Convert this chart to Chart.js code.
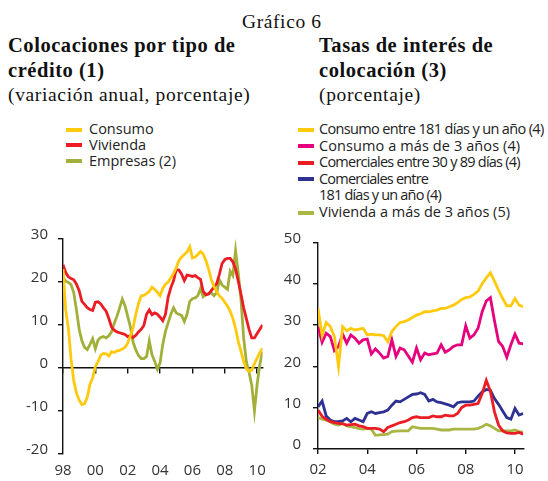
<!DOCTYPE html>
<html lang="es">
<head>
<meta charset="utf-8">
<title>Gráfico 6</title>
<script src="https://cdn.jsdelivr.net/npm/chart.js@4.4.0/dist/chart.umd.min.js"></script>
<style>
  body { margin: 0; background: #fff; }
  #page { position: relative; width: 548px; height: 481px; overflow: hidden; color: #222; }
  .serif { position: absolute; font-family: "Liberation Serif", serif; white-space: nowrap; color: #111; }
  .num { font-size: 19.5px; line-height: 19px; letter-spacing: 0.6px; }
  .tit { font-size: 20.5px; line-height: 25px; font-weight: bold; letter-spacing: 0.55px; }
  .sub { font-size: 19.5px; line-height: 19px; letter-spacing: 0.65px; }
  .leg { position: absolute; font-family: "Open Sans", sans-serif; font-size: 14.5px; line-height: 16px; white-space: nowrap; color: #222; }
  .mk { position: absolute; height: 4px; }
  .box { position: absolute; top: 220px; width: 274px; height: 261px; }
</style>
</head>
<body>
<div id="page">
  <div class="serif num" style="left:242px; top:12px;">Gráfico 6</div>

  <div class="serif tit" style="left:8px; top:33px;">Colocaciones por tipo de<br>crédito (1)</div>
  <div class="serif sub" style="left:8px; top:85px;">(variación anual, porcentaje)</div>

  <div class="serif tit" style="left:319px; top:33px;">Tasas de interés de<br>colocación (3)</div>
  <div class="serif sub" style="left:319px; top:85px;">(porcentaje)</div>

  <div id="legIzq"></div>
  <div id="legDer"></div>

  <div class="box" style="left:0;"><canvas id="izq" width="274" height="261"></canvas></div>
  <div class="box" style="left:274px;"><canvas id="der" width="274" height="261"></canvas></div>
</div>

<script>
// datos bimestrales (ene, mar, may, jul, sep, nov)
const fechasIzq = Array.from({ length: 75 }, (_, i) => 1998 + i / 6);
const fechasDer = Array.from({ length: 51 }, (_, i) => 2002 + i / 6);

// Colocaciones, variación anual (%)
const consumo = [
  23, 13.5, 9.2, 2, -3, -5.8,
  -7.5, -8.5, -8.3, -6.8, -3.8, -2.3,
  0.3, 1.5, 3, 3.4, 3.3, 2.8,
  3.8, 3.6, 4, 4.1, 4.4, 4.8,
  5.8, 7.5, 9.4, 12.5, 15, 16.8,
  16.9, 17.3, 17.8, 18.8, 18.3, 17.6,
  16.8, 18.5, 19.5, 20, 21, 22,
  23.3, 25, 25.8, 26.4, 27, 28.2,
  25.6, 25.8, 26.4, 27.1, 26.5, 25,
  23, 20.5, 19, 17.8, 16.8, 16.2,
  15.3, 14.4, 13.2, 11.5, 9.2, 6.2,
  3.9, 1.5, -0.2, -0.8, -0.5, 1.0,
  2.3, 3.6, 4.6
];
const vivienda = [
  24, 22.2, 21.2, 20.8, 20.5, 19.5,
  18, 15.5, 14.8, 14, 13.6, 13.4,
  15.3, 15.4, 14.9, 14, 13.2, 11.5,
  9.5, 8.8, 8.4, 8.2, 8.0, 7.8,
  7.3, 7.5, 7.1, 7.6, 8.4, 9.0,
  9.9, 12.5, 13.5, 12.4, 12.8, 12.5,
  11.8, 11.0, 12.5, 16.5, 18.7, 20.3,
  22.9, 22.8, 21.8, 20.3, 21.6, 21.5,
  21.3, 21.5, 21, 20.6, 17.8, 17,
  17.2, 18, 18.8, 19.6, 21.8, 24.3,
  25.2, 25.5, 25.5, 24.7, 23, 20.2,
  17.2, 14.0, 11.5, 9.0, 7.0, 7.0,
  8.0, 9.0, 10.0
];
const empresas = [
  21, 20.2, 19.9, 19.4, 17.5, 13.5,
  9, 6.3, 4.8, 4.3, 5.5, 6.8,
  4.5, 6.5, 7.1, 7.3, 7.0, 7.5,
  8.4, 10.4, 12.0, 14.0, 16.0, 14.5,
  12.0, 9.5, 6.0, 4.2, 2.9, 2.2,
  2.2, 2.7, 6.3, 3.1, 1.6, -0.3,
  1.2, 5.5, 8.5, 10.5, 12.5, 14.0,
  12.8, 12.5, 12.2, 10.8, 12.5, 15.5,
  16.1, 16.3, 16.8, 18.5, 16.6, 17.2,
  17.3, 17.5, 16.8, 17.5, 20.5, 19.3,
  18.8, 18.3, 22.5, 21.5, 27.3, 22,
  16, 7, 1.5, -1.0, -4, -10,
  -3.8, 0.8, 3.8
];

// Tasas de interés de colocación (%)
const consumoCorto = [
  34.0, 27.5, 30.6, 29.6, 27.2, 20.0,
  29.6, 28.6, 29.2, 28.8, 29.0, 29.2,
  27.6, 27.8, 27.6, 27.6, 27.4, 26.0,
  28.4, 29.6, 30.6, 30.8, 31.2, 31.8,
  32.4, 32.7, 33.2, 33.2, 33.4, 33.6,
  34.0, 34.0, 34.4, 34.8, 35.4, 36.2,
  36.6, 36.8, 37.4, 38.2, 40.0, 41.4,
  42.6, 40.6, 38.4, 36.4, 34.6, 34.6,
  36.4, 34.8, 34.4
];
const consumoLargo = [
  29.6, 25.8, 28.0, 27.2, 23.8, 24.8,
  27.8, 25.6, 27.6, 26.8, 25.6, 26.4,
  26.6, 23.0, 24.2, 23.2, 22.0, 22.4,
  26.4, 22.4, 24.4, 24.0, 22.5, 21.0,
  24.4, 21.6, 23.2, 22.8, 23.0, 23.2,
  25.2, 23.4, 24.0, 24.8, 25.2, 25.2,
  29.8, 26.8, 27.6, 29.2, 33.2, 35.8,
  36.6, 31.0, 26.0, 24.8, 22.2, 25.2,
  27.8, 25.6, 25.4
];
const comercialesCorto = [
  9.4, 7.9, 7.2, 6.6, 6.4, 6.2,
  6.1, 5.8, 5.9, 6.0, 5.6, 5.4,
  5.0, 5.0, 5.0, 4.8, 4.2, 5.2,
  5.6, 6.0, 6.4, 6.6, 7.0, 7.6,
  7.8, 7.6, 7.6, 7.6, 8.0, 7.8,
  7.8, 8.2, 8.0, 8.0, 8.6, 10.0,
  10.6, 10.6, 10.8, 11.0, 13.4, 16.6,
  14.0, 9.0, 5.8, 4.4, 3.9, 3.8,
  3.8, 4.0, 3.6
];
const comercialesLargo = [
  10.2, 11.6, 8.0, 7.0, 6.6, 6.6,
  6.8, 7.4, 6.6, 7.4, 7.0, 6.6,
  8.6, 9.0, 8.6, 8.8, 9.0, 9.4,
  10.6, 11.6, 11.4, 12.0, 12.6, 13.2,
  13.3, 13.6, 13.2, 11.6, 12.0, 11.4,
  11.2, 10.9, 10.6, 10.2, 11.2, 11.4,
  11.4, 11.4, 11.6, 12.8, 13.8, 14.4,
  14.2, 12.2, 10.8, 9.2, 7.6, 7.2,
  9.8, 8.2, 8.6
];
const viviendaLarga = [
  7.6, 7.2, 7.0, 6.6, 6.0, 5.8,
  6.2, 5.6, 5.4, 5.2, 4.9, 4.8,
  5.0, 4.8, 3.3, 3.4, 3.5, 3.6,
  4.2, 4.3, 4.4, 4.4, 4.4, 5.4,
  5.2, 5.0, 5.0, 5.0, 5.0, 4.8,
  4.6, 4.6, 4.6, 4.8, 4.8, 4.8,
  4.8, 4.8, 4.8, 5.0, 5.4, 6.0,
  5.6, 5.0, 4.4, 4.4, 4.4, 4.4,
  4.6, 4.2, 4.0
];

const ticksIzq = [30, 20, 10, 0, -10, -20];
const ticksDer = [50, 40, 30, 20, 10, 0];

const amarillo = "#FFC90E";
const rojo = "#EC1C24";
const oliva = "#A2B03A";
const magenta = "#E6007E";
const azul = "#2E3192";

const seriesIzq = [
  { label: "Consumo", data: consumo, color: amarillo },
  { label: "Vivienda", data: vivienda, color: rojo },
  { label: "Empresas (2)", data: empresas, color: oliva },
];
const seriesDer = [
  { label: "Consumo entre 181 días y un año (4)", data: consumoCorto, color: amarillo, ls: -0.65 },
  { label: "Consumo a más de 3 años (4)", data: consumoLargo, color: magenta, ls: 0.1 },
  { label: "Comerciales entre 30 y 89 días (4)", data: comercialesCorto, color: rojo, ls: -0.75 },
  { label: "Comerciales entre<br>181 días y un año (4)", data: comercialesLargo, color: azul, ls: -0.8 },
  { label: "Vivienda a más de 3 años (5)", data: viviendaLarga, color: "#A9B644", ls: 0 },
];

// leyendas en HTML
function leyenda(id, series, mkLeft, txtLeft, filas) {
  const cont = document.getElementById(id);
  series.forEach((s, i) => {
    const y = filas[i];
    const mk = document.createElement("div");
    mk.className = "mk";
    mk.style.cssText = `left:${mkLeft}px; width:16px; top:${y - 2}px; background:${s.color};`;
    cont.appendChild(mk);
    const t = document.createElement("div");
    t.className = "leg";
    t.style.cssText = `left:${txtLeft}px; top:${y - 8.4}px; letter-spacing:${s.ls || 0}px;`;
    t.innerHTML = s.label;
    cont.appendChild(t);
  });
}
leyenda("legIzq", seriesIzq, 65.5, 89, [129.5, 145, 161]);
leyenda("legDer", seriesDer, 297.5, 319, [129.5, 146, 162.5, 179, 212.5]);

const fuente = { family: "'Open Sans'", size: 15 };
const gris = "#333";
const anio = (v) => String(Math.round(v) % 100).padStart(2, "0");

function dataset(s) {
  return {
    label: s.label,
    data: s.data,
    borderColor: s.color,
    borderWidth: 2.8,
    pointRadius: 0,
    tension: 0,
    fill: false,
  };
}

// Gráfico izquierdo
new Chart(document.getElementById("izq"), {
  type: "line",
  data: { labels: fechasIzq, datasets: seriesIzq.map(dataset) },
  options: {
    responsive: false,
    animation: false,
    devicePixelRatio: 1,
    layout: { padding: { top: 15.7, right: 10.6, left: 0, bottom: 0 } },
    plugins: { legend: { display: false }, tooltip: { enabled: false } },
    scales: {
      x: {
        type: "linear",
        min: 1998,
        max: 1998 + 74 / 6,
        border: { display: false },
        grid: { display: false, drawTicks: false },
        ticks: { stepSize: 2, includeBounds: false, callback: anio, font: fuente, color: gris, padding: 8, maxRotation: 0 },
        afterFit: (s) => { s.height = 27; },
      },
      cero: {
        type: "linear",
        axis: "x",
        position: { y: 0 },
        min: 1998,
        max: 1998 + 74 / 6,
        border: { display: true, color: "#111", width: 1.4 },
        grid: { drawOnChartArea: false, drawTicks: true, tickLength: 5, color: "#111", lineWidth: 1.4 },
        ticks: { display: false, stepSize: 2, includeBounds: false },
      },
      y: {
        min: -20,
        max: 30,
        afterBuildTicks: (s) => { s.ticks = ticksIzq.map((v) => ({ value: v })); },
        border: { color: "#111", width: 1.4 },
        grid: { drawOnChartArea: false, tickLength: 5, color: "#111", lineWidth: 1.4 },
        ticks: { font: fuente, color: gris, padding: 10, labelOffset: -4 },
        afterFit: (s) => { s.width = 63; },
      },
    },
  },
});

// Gráfico derecho
new Chart(document.getElementById("der"), {
  type: "line",
  data: { labels: fechasDer, datasets: seriesDer.map(dataset) },
  options: {
    responsive: false,
    animation: false,
    devicePixelRatio: 1,
    layout: { padding: { top: 22.3, right: 24.8, left: 0, bottom: 0 } },
    plugins: { legend: { display: false }, tooltip: { enabled: false } },
    scales: {
      x: {
        type: "linear",
        min: 2002,
        max: 2002 + 50 / 6,
        border: { display: true, color: "#111", width: 1.4 },
        grid: { drawOnChartArea: false, drawTicks: true, tickLength: 5, color: "#111", lineWidth: 1.4 },
        ticks: { stepSize: 2, includeBounds: false, callback: anio, font: fuente, color: gris, padding: 7, maxRotation: 0 },
        afterFit: (s) => { s.height = 32; },
      },
      y: {
        min: 0,
        max: 50,
        afterBuildTicks: (s) => { s.ticks = ticksDer.map((v) => ({ value: v })); },
        border: { color: "#111", width: 1.4 },
        grid: { drawOnChartArea: false, tickLength: 5, color: "#111", lineWidth: 1.4 },
        ticks: { font: fuente, color: gris, padding: 12, labelOffset: -4 },
        afterFit: (s) => { s.width = 44; },
      },
    },
  },
});
</script>
</body>
</html>
